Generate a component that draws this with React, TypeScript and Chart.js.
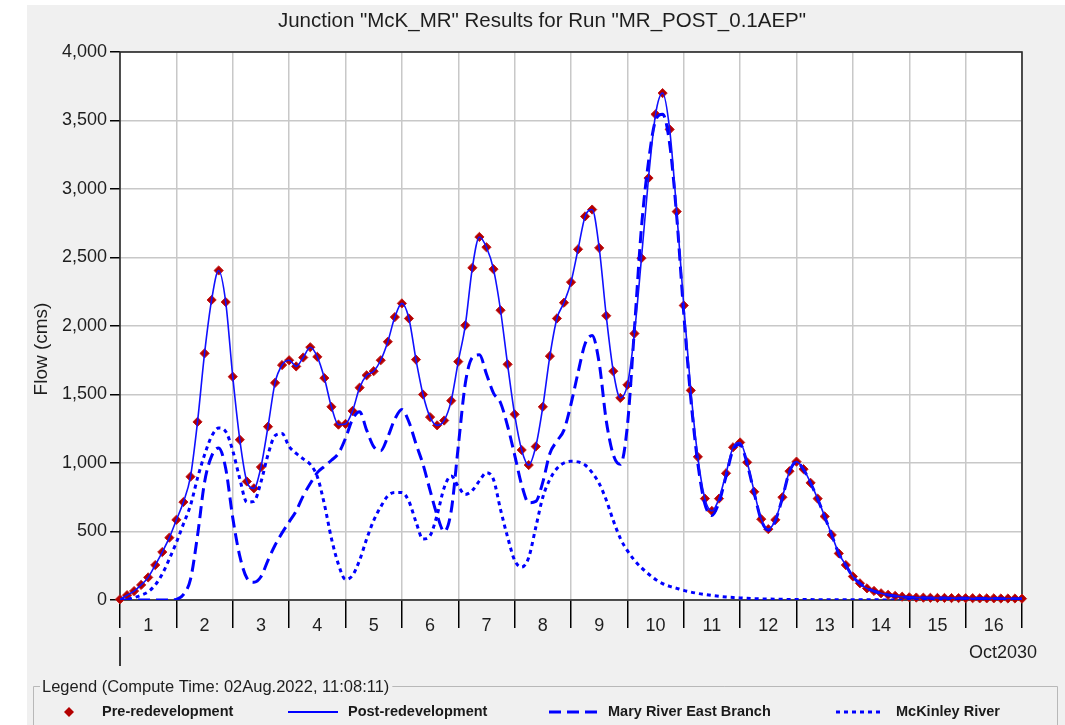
import React, { useEffect, useRef } from "react";
import { Chart, registerables } from "chart.js";

Chart.register(...registerables);

const FONT = '"Liberation Sans", Arial, Helvetica, sans-serif';
const TITLE = 'Junction "McK_MR" Results for Run "MR_POST_0.1AEP"';
const Y_TITLE = "Flow (cms)";
const MONTH_LABEL = "Oct2030";
const LEGEND_TITLE = "Legend (Compute Time: 02Aug.2022, 11:08:11)";

// one value every 3 hours, starting 01 Oct 00:00
const STEP_DAYS = 3 / 24;

const dayLabels = ["1", "2", "3", "4", "5", "6", "7", "8", "9", "10", "11", "12", "13", "14", "15", "16"];
const yTickValues = [0, 500, 1000, 1500, 2000, 2500, 3000, 3500, 4000];

const seriesNames = ["Pre-redevelopment", "Post-redevelopment", "Mary River East Branch", "McKinley River"];

const preRedevelopment = [
  5, 35, 65, 110, 165, 255, 350, 455,
  585, 715, 900, 1300, 1800, 2190, 2405, 2175,
  1630, 1170, 865, 815, 970, 1265, 1585, 1715,
  1750, 1705, 1770, 1845, 1775, 1620, 1410, 1280,
  1285, 1380, 1550, 1640, 1670, 1750, 1885, 2065,
  2165, 2055, 1755, 1500, 1335, 1275, 1310, 1455,
  1740, 2005, 2425, 2650, 2575, 2415, 2115, 1720,
  1355, 1095, 985, 1120, 1410, 1780, 2055, 2170,
  2320, 2560, 2800, 2850, 2570, 2075, 1670, 1475,
  1570, 1945, 2495, 3080, 3545, 3700, 3435, 2835,
  2150, 1530, 1045, 740, 650, 740, 925, 1115,
  1150, 1005, 790, 590, 517, 585, 750, 940,
  1010, 955, 855, 740, 610, 475, 340, 255,
  172, 122, 85, 66, 49, 38, 30, 24,
  20, 18, 17, 16, 15, 15, 14, 14,
  13, 13, 12, 12, 12, 11, 11, 11,
  10,
];

const postRedevelopment = [
  5, 35, 65, 110, 165, 255, 350, 455,
  585, 715, 900, 1300, 1800, 2190, 2405, 2175,
  1630, 1170, 865, 815, 970, 1265, 1585, 1715,
  1750, 1705, 1770, 1845, 1775, 1620, 1410, 1280,
  1285, 1380, 1550, 1640, 1670, 1750, 1885, 2065,
  2165, 2055, 1755, 1500, 1335, 1275, 1310, 1455,
  1740, 2005, 2425, 2650, 2575, 2415, 2115, 1720,
  1355, 1095, 985, 1120, 1410, 1780, 2055, 2170,
  2320, 2560, 2800, 2850, 2570, 2075, 1670, 1475,
  1570, 1945, 2495, 3080, 3545, 3700, 3435, 2835,
  2150, 1530, 1045, 740, 650, 740, 925, 1115,
  1150, 1005, 790, 590, 517, 585, 750, 940,
  1010, 955, 855, 740, 610, 475, 340, 255,
  172, 122, 85, 66, 49, 38, 30, 24,
  20, 18, 17, 16, 15, 15, 14, 14,
  13, 13, 12, 12, 12, 11, 11, 11,
  10,
];

const maryRiverEastBranch = [
  0, 0, 0, 0, 0, 0, 0, 0,
  5, 40, 150, 470, 860, 1050, 1110, 960,
  600, 320, 160, 130, 170, 290, 400, 490,
  570, 650, 760, 850, 930, 975, 1020, 1070,
  1180, 1320, 1375, 1240, 1120, 1090, 1190, 1320,
  1390, 1300, 1140, 990, 800, 620, 500, 650,
  1120, 1580, 1770, 1790, 1650, 1510, 1440, 1270,
  1060, 840, 710, 720, 860, 1070, 1160, 1240,
  1430, 1660, 1870, 1930, 1730, 1310, 1060, 990,
  1270, 1980, 2720, 3200, 3500, 3545, 3330, 2800,
  2090, 1470, 995, 700, 617, 713, 903, 1097,
  1135, 993, 780, 582, 510, 579, 745, 936,
  1007, 952, 853, 738, 608, 474, 339, 254,
  171, 121, 84, 65, 48, 37, 29, 23,
  19, 17, 16, 15, 14, 14, 13, 13,
  12, 12, 11, 11, 11, 10, 10, 10,
  9,
];

const mckinleyRiver = [
  0, 5, 17, 35, 60, 110, 190, 300,
  420, 555, 690, 890, 1060, 1195, 1255, 1230,
  1090, 885, 715, 720, 860, 1060, 1200, 1215,
  1120, 1070, 1030, 990, 900, 700, 450, 260,
  150, 180, 290, 445, 580, 680, 760, 785,
  785, 720, 570, 445, 470, 620, 820, 905,
  830, 770, 800, 870, 930, 880, 660, 460,
  290, 240, 310, 530, 750, 880, 960, 1000,
  1012, 1008, 985, 930, 850, 730, 580, 450,
  360, 290, 235, 190, 150, 120, 100, 85,
  70, 58, 48, 40, 33, 27, 22, 18,
  15, 12, 10, 8, 7, 6, 5, 4,
  4, 3, 3, 2, 2, 2, 1, 1,
  1, 1, 1, 1, 1, 0, 0, 0,
  0, 0, 0, 0, 0, 0, 0, 0,
  0, 0, 0, 0, 0, 0, 0, 0,
  0,
];

const toPoints = (vals: number[]) => vals.map((y, i) => ({ x: i * STEP_DAYS, y }));

const isWhole = (v: any) => typeof v === "number" && Math.abs(v - Math.round(v)) < 1e-6;

const decorPlugin = {
  id: "hmsDecor",
  beforeDraw(chart: any) {
    const { ctx, chartArea: a, width, height } = chart;
    ctx.save();
    ctx.fillStyle = "#ffffff";
    ctx.fillRect(0, 0, width, height);
    ctx.fillStyle = "#f0f0f0";
    ctx.fillRect(27, 5, width - 27, height - 5);
    ctx.fillStyle = "#ffffff";
    ctx.fillRect(a.left, a.top, a.right - a.left, a.bottom - a.top);
    ctx.restore();
  },
  beforeDatasetsDraw(chart: any) {
    const { ctx, chartArea: a } = chart;
    ctx.save();
    ctx.strokeStyle = "#2a2a2a";
    ctx.lineWidth = 1.6;
    ctx.strokeRect(a.left, a.top, a.right - a.left, a.bottom - a.top);
    ctx.restore();
  },
  afterDraw(chart: any) {
    const { ctx, chartArea: a, width, height } = chart;
    const xs = chart.scales.x;
    ctx.save();
    ctx.fillStyle = "#1e1e1e";
    ctx.textBaseline = "middle";

    // Title
    ctx.font = `20.5px ${FONT}`;
    ctx.textAlign = "center";
    ctx.fillText(TITLE, 542, 21);

    // Y axis title
    ctx.save();
    ctx.translate(42, 349);
    ctx.rotate(-Math.PI / 2);
    ctx.font = `19px ${FONT}`;
    ctx.fillText(Y_TITLE, 0, 0);
    ctx.restore();

    // month start tick and month label
    const x0 = xs.getPixelForValue(0);
    ctx.strokeStyle = "#000";
    ctx.lineWidth = 1.5;
    ctx.beginPath();
    ctx.moveTo(x0, 637);
    ctx.lineTo(x0, 666);
    ctx.stroke();
    ctx.font = `18px ${FONT}`;
    ctx.textAlign = "center";
    ctx.fillText(MONTH_LABEL, a.right - 19, 653);

    // Legend group box
    const boxTop = 686.5;
    const boxLeft = 33.5;
    const boxRight = width - 7.5;
    ctx.font = `16.5px ${FONT}`;
    ctx.textAlign = "left";
    const tw = ctx.measureText(LEGEND_TITLE).width;
    ctx.strokeStyle = "#b8b8b8";
    ctx.lineWidth = 1;
    ctx.beginPath();
    ctx.moveTo(40, boxTop);
    ctx.lineTo(boxLeft, boxTop);
    ctx.lineTo(boxLeft, height + 2);
    ctx.moveTo(42 + tw + 3, boxTop);
    ctx.lineTo(boxRight, boxTop);
    ctx.lineTo(boxRight, height + 2);
    ctx.stroke();
    ctx.fillStyle = "#1e1e1e";
    ctx.fillText(LEGEND_TITLE, 42, 687);

    // Legend items
    const ly = 712;
    ctx.font = `bold 14.5px ${FONT}`;
    // diamond
    ctx.fillStyle = "#b30000";
    ctx.beginPath();
    ctx.moveTo(69, ly - 5);
    ctx.lineTo(74, ly);
    ctx.lineTo(69, ly + 5);
    ctx.lineTo(64, ly);
    ctx.closePath();
    ctx.fill();
    ctx.fillStyle = "#1a1a1a";
    ctx.fillText(seriesNames[0], 102, ly);

    ctx.strokeStyle = "#0000ff";
    ctx.lineWidth = 2;
    ctx.setLineDash([]);
    ctx.beginPath();
    ctx.moveTo(288, ly);
    ctx.lineTo(338, ly);
    ctx.stroke();
    ctx.fillText(seriesNames[1], 348, ly);

    ctx.lineWidth = 3;
    ctx.setLineDash([12, 6]);
    ctx.beginPath();
    ctx.moveTo(549, ly);
    ctx.lineTo(597, ly);
    ctx.stroke();
    ctx.fillText(seriesNames[2], 608, ly);

    ctx.setLineDash([4, 4]);
    ctx.beginPath();
    ctx.moveTo(836, ly);
    ctx.lineTo(884, ly);
    ctx.stroke();
    ctx.setLineDash([]);
    ctx.fillText(seriesNames[3], 896, ly);

    ctx.restore();
  },
};

export default function App() {
  const canvasRef = useRef<HTMLCanvasElement | null>(null);

  useEffect(() => {
    const canvas = canvasRef.current;
    if (!canvas) return;
    const chart = new Chart(canvas, {
      type: "line",
      data: {
        datasets: [
          {
            label: seriesNames[0],
            data: toPoints(preRedevelopment),
            showLine: false,
            pointStyle: "rectRot",
            pointRadius: 4.6,
            pointBackgroundColor: "#b30000",
            pointBorderColor: "#c41a1a",
            pointBorderWidth: 1,
            borderColor: "#b30000",
            backgroundColor: "#b30000",
            order: 4,
            clip: 6,
          },
          {
            label: seriesNames[1],
            data: toPoints(postRedevelopment),
            borderColor: "#1010ff",
            borderWidth: 1.6,
            pointRadius: 0,
            cubicInterpolationMode: "monotone",
            fill: false,
            order: 1,
          },
          {
            label: seriesNames[2],
            data: toPoints(maryRiverEastBranch),
            borderColor: "#0000ff",
            borderWidth: 3,
            borderDash: [12, 6],
            pointRadius: 0,
            cubicInterpolationMode: "monotone",
            fill: false,
            order: 2,
          },
          {
            label: seriesNames[3],
            data: toPoints(mckinleyRiver),
            borderColor: "#0000ff",
            borderWidth: 3,
            borderDash: [4, 4],
            pointRadius: 0,
            cubicInterpolationMode: "monotone",
            fill: false,
            order: 3,
          },
        ],
      },
      options: {
        animation: false,
        responsive: false,
        devicePixelRatio: 1,
        events: [],
        layout: { padding: { left: 0, right: 43, top: 52, bottom: 0 } },
        plugins: {
          legend: { display: false },
          tooltip: { enabled: false },
          title: { display: false },
        },
        scales: {
          x: {
            type: "linear",
            min: 0,
            max: dayLabels.length,
            afterFit: (scale: any) => {
              scale.height = 125;
            },
            border: { display: false },
            grid: {
              color: (c: any) => (isWhole(c.tick?.value) ? "#c8c8c8" : "rgba(0,0,0,0)"),
              lineWidth: 1.5,
              tickColor: (c: any) => (isWhole(c.tick?.value) ? "#000000" : "rgba(0,0,0,0)"),
              tickLength: 28,
              tickWidth: 1.5,
            },
            ticks: {
              stepSize: 0.5,
              autoSkip: false,
              maxRotation: 0,
              minRotation: 0,
              padding: -13,
              color: "#1e1e1e",
              font: { family: FONT, size: 18 },
              callback: (value: any) => {
                const v = Number(value);
                const f = v - Math.floor(v);
                return Math.abs(f - 0.5) < 1e-6 ? dayLabels[Math.floor(v)] : "";
              },
            },
          },
          y: {
            type: "linear",
            min: yTickValues[0],
            max: yTickValues[yTickValues.length - 1],
            afterFit: (scale: any) => {
              scale.width = 120;
            },
            border: { display: false },
            grid: {
              color: "#c8c8c8",
              lineWidth: 1.5,
              tickColor: "#000000",
              tickLength: 10,
              tickWidth: 1.5,
            },
            ticks: {
              stepSize: yTickValues[1] - yTickValues[0],
              padding: 3,
              color: "#1e1e1e",
              font: { family: FONT, size: 18 },
              callback: (value: any) => Number(value).toLocaleString("en-US"),
            },
          },
        },
      },
      plugins: [decorPlugin],
    } as any);
    return () => chart.destroy();
  }, []);

  return (
    <div style={{ position: "absolute", left: 0, top: 0, width: 1065, height: 725 }}>
      <canvas ref={canvasRef} width={1065} height={725} style={{ display: "block" }} />
    </div>
  );
}
